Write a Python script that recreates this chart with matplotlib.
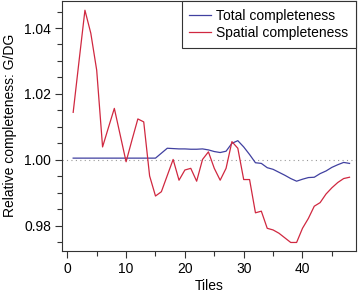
import numpy as np
import matplotlib
matplotlib.use("Agg")
import matplotlib.pyplot as plt
from matplotlib.ticker import MultipleLocator

plt.rcParams['font.family'] = ['Liberation Sans', 'DejaVu Sans']

tiles = np.arange(1, 49)

total = [1.0005, 1.0005, 1.0005, 1.0005, 1.0005, 1.0005, 1.0005, 1.0005,
         1.0005, 1.0005, 1.0005, 1.0005, 1.0005, 1.0005, 1.0005, 1.0020,
         1.0035, 1.0034, 1.0033, 1.0033, 1.0032, 1.0032, 1.0033, 1.0030,
         1.0025, 1.0022, 1.0026, 1.0050, 1.0058, 1.0039, 1.0016, 0.9991,
         0.9989, 0.9976, 0.9971, 0.9962, 0.9953, 0.9943, 0.9935, 0.9941,
         0.9946, 0.9947, 0.9958, 0.9966, 0.9977, 0.9985, 0.9992, 0.9989]

spatial = [1.0144, 1.0300, 1.0454, 1.0384, 1.0272, 1.0039, 1.0098, 1.0156,
           1.0075, 0.9994, 1.0060, 1.0124, 1.0115, 0.9951, 0.9890, 0.9903,
           0.9952, 1.0001, 0.9938, 0.9969, 0.9974, 0.9935, 1.0001, 1.0024,
           0.9974, 0.9938, 0.9974, 1.0055, 1.0035, 0.9940, 0.9940, 0.9839,
           0.9844, 0.9792, 0.9787, 0.9777, 0.9763, 0.9749, 0.9749, 0.9792,
           0.9822, 0.9859, 0.9870, 0.9896, 0.9915, 0.9931, 0.9943, 0.9947]

fig = plt.figure(figsize=(3.61, 2.94), dpi=100)
ax = fig.add_axes([62 / 361, 43.3 / 294, 294 / 361, 249.7 / 294])

ax.axhline(1.0, color='#999999', linestyle=(0, (1, 3)), linewidth=0.8)
ax.plot(tiles, total, color='#4040a0', linewidth=0.9, label='Total completeness')
ax.plot(tiles, spatial, color='#d02840', linewidth=0.9, label='Spatial completeness')

ax.set_xlim(-0.9, 49.1)
ax.set_ylim(0.9724, 1.0482)
ax.xaxis.set_major_locator(MultipleLocator(10))
ax.xaxis.set_minor_locator(MultipleLocator(5))
ax.yaxis.set_major_locator(MultipleLocator(0.02))
ax.yaxis.set_minor_locator(MultipleLocator(0.005))
ax.yaxis.set_major_formatter(matplotlib.ticker.FormatStrFormatter('%.2f'))

ax.tick_params(which='major', direction='out', length=5, width=0.8,
               labelsize=10, pad=3, color='#333333')
ax.tick_params(which='minor', direction='out', length=3.5, width=0.8,
               color='#333333')
for s in ax.spines.values():
    s.set_linewidth(0.8)
    s.set_color('#333333')

ax.set_xlabel('Tiles', fontsize=10, labelpad=2)
ax.set_ylabel('Relative completeness: G/DG', fontsize=10, labelpad=5)

leg = ax.legend(loc='upper right', bbox_to_anchor=(1, 1), borderaxespad=0,
                fontsize=10, fancybox=False, framealpha=1, handlelength=1.6,
                handletextpad=0.35, borderpad=0.55, labelspacing=0.25)
leg.get_frame().set_edgecolor('#333333')
leg.get_frame().set_linewidth(0.8)

fig.savefig('out.png', dpi=100)
